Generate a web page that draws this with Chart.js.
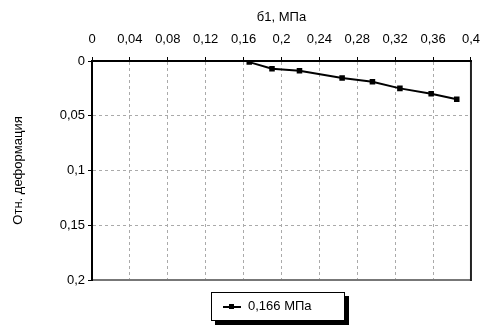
<!DOCTYPE html>
<html>
<head>
<meta charset="utf-8">
<script src="https://cdn.jsdelivr.net/npm/chart.js@4"></script>
<style>
html,body{margin:0;padding:0;background:#fff;}
#wrap{position:relative;width:490px;height:329px;}
#legend{position:absolute;left:211px;top:292px;width:132px;height:27px;border:1px solid #000;background:#fff;box-shadow:4px 4px 0 #000;font-family:"Liberation Sans",Arial,sans-serif;font-size:13px;color:#000;}
#legend .mk{position:absolute;left:11px;top:13px;width:18px;height:2px;background:#000;}
#legend .mk2{position:absolute;left:17px;top:11px;width:5px;height:5px;background:#000;}
#legend .tx{position:absolute;left:36px;top:5px;}
</style>
</head>
<body>
<div id="wrap">
<canvas id="c" width="490" height="329"></canvas>
<div id="legend"><div class="mk"></div><div class="mk2"></div><div class="tx" id="legtext"></div></div>
</div>
<script>
const seriesName = '0,166 МПа';
const stress = [0.166, 0.19, 0.219, 0.264, 0.296, 0.325, 0.358, 0.385];
const strain = [0.001, 0.007, 0.009, 0.0155, 0.019, 0.025, 0.030, 0.035];
const xTickLabels = ['0','0,04','0,08','0,12','0,16','0,2','0,24','0,28','0,32','0,36','0,4'];
const yTickLabels = ['0','0,05','0,1','0,15','0,2'];
const xTitle = 'б1, МПа';
const yTitle = 'Отн. деформация';

document.getElementById('legtext').textContent = seriesName;

const frame = {
  id:'frame',
  afterDraw(ch){
    const a = ch.chartArea, c = ch.ctx;
    c.save();
    c.setLineDash([]);
    c.lineWidth = 2;
    c.strokeStyle = '#777';
    c.beginPath(); c.moveTo(a.left, a.bottom); c.lineTo(a.right, a.bottom); c.stroke();
    c.strokeStyle = '#222';
    c.beginPath(); c.moveTo(a.right, a.top); c.lineTo(a.right, a.bottom+1); c.stroke();
    c.strokeStyle = '#000';
    c.beginPath(); c.moveTo(a.left-1, a.top); c.lineTo(a.right+1, a.top); c.stroke();
    c.beginPath(); c.moveTo(a.left, a.top); c.lineTo(a.left, a.bottom+1); c.stroke();
    c.restore();
  }
};

const font = {family:'"Liberation Sans", Arial, sans-serif', size:13};
new Chart(document.getElementById('c'), {
  type:'scatter',
  data:{datasets:[{
    label:seriesName,
    data: stress.map((x,i)=>({x:x, y:strain[i]})),
    showLine:true,
    borderColor:'#000',
    backgroundColor:'#000',
    borderWidth:2,
    pointStyle:'rect',
    pointRadius:2.5,
    pointHoverRadius:2.5
  }]},
  options:{
    responsive:false,
    animation:false,
    events:[],
    layout:{padding:{left:0,right:17,top:0,bottom:49}},
    plugins:{legend:{display:false},tooltip:{enabled:false}},
    scales:{
      x:{
        type:'linear', position:'top', min:0, max:0.4,
        afterBuildTicks(s){ s.ticks = xTickLabels.map((t,i)=>({value:i*0.04})); },
        afterFit(s){ s.height = 61; },
        ticks:{font:font, color:'#000', padding:10, maxRotation:0, autoSkip:false,
          callback:(v,i)=>xTickLabels[i]},
        title:{display:true, text:xTitle, font:font, color:'#000', padding:{top:10,bottom:0}},
        grid:{color:'#aaa', tickLength:4, tickColor:'#000', drawTicks:true},
        border:{display:true, color:'#000', width:2, dash:[3,3]}
      },
      y:{
        type:'linear', reverse:true, min:0, max:0.2,
        afterBuildTicks(s){ s.ticks = yTickLabels.map((t,i)=>({value:i*0.05})); },
        afterFit(s){ s.width = 92; },
        ticks:{font:font, color:'#000', padding:3, autoSkip:false,
          callback:(v,i)=>yTickLabels[i]},
        title:{display:true, text:yTitle, font:font, color:'#000', padding:{top:11,bottom:0}},
        grid:{color:'#aaa', tickLength:4, tickColor:'#000'},
        border:{display:true, color:'#000', width:2, dash:[3,3]}
      }
    }
  },
  plugins:[frame]
});
</script>
</body>
</html>
